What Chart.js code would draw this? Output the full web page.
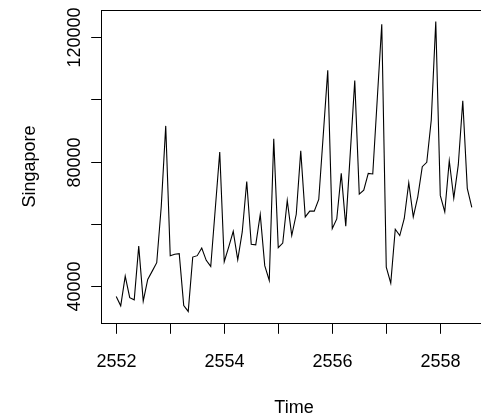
<!DOCTYPE html>
<html>
<head>
<meta charset="utf-8">
<script src="https://cdn.jsdelivr.net/npm/chart.js@4.4.1/dist/chart.umd.min.js"></script>
<style>
  html, body { margin: 0; padding: 0; overflow: hidden; background: #fff; }
  #wrap { width: 481px; height: 417px; overflow: hidden; }
</style>
</head>
<body>
<div id="wrap"><canvas id="myChart" width="490" height="417"></canvas></div>
<script>
// monthly series, starting Jan 2552 (Thai year), frequency 12
const startYear = 2552;
const freq = 12;
const singapore = [
  36800, 33800, 43300, 36400, 35700, 52900, 35300, 42250, 44900, 47600, 65500, 91400,
  49850, 50300, 50500, 33900, 32000, 49400, 49850, 52300, 48350, 46400, 64700, 83050,
  47900, 52650, 57650, 48550, 57450, 73600, 53500, 53300, 63050, 46650, 41900, 87250,
  52400, 53900, 67500, 56300, 63100, 83400, 62250, 64100, 64100, 67850, 88500, 109200,
  58500, 61600, 76200, 59300, 82600, 105900, 69550, 70850, 76200, 76000, 100000, 123950,
  46200, 41050, 58300, 56300, 61750, 73200, 62250, 68700, 78350, 79750, 93300, 124800,
  69150, 63900, 80250, 68250, 78900, 99450, 71400, 65300
];

const xTicks = [2552, 2553, 2554, 2555, 2556, 2557, 2558];
const xTickLabels = ['2552', '', '2554', '', '2556', '', '2558'];
const yTicks = [40000, 60000, 80000, 100000, 120000];
const yTickLabels = ['40000', '', '80000', '', '120000'];
const xTitle = 'Time';
const yTitle = 'Singapore';

const points = singapore.map((v, i) => ({ x: startYear + i / freq, y: v }));

// R style axis ranges: data range plus 4%
const tEnd = startYear + (singapore.length - 1) / freq;
const xPad = (tEnd - startYear) * 0.04;
const yLo = Math.min(...singapore), yHi = Math.max(...singapore);
const yPad = (yHi - yLo) * 0.04;

const FONT = '18px "Liberation Sans", Arial, sans-serif';
const TCK = 10.8;

const baseAxes = {
  id: 'baseAxes',
  afterDraw(chart) {
    const ctx = chart.ctx;
    const a = chart.chartArea;
    const xs = chart.scales.x, ys = chart.scales.y;
    ctx.save();
    ctx.strokeStyle = '#000';
    ctx.fillStyle = '#000';
    ctx.lineWidth = 1;
    // box
    ctx.strokeRect(a.left - 0.5, a.top + 0.5, a.right - a.left, a.bottom - a.top);
    ctx.font = FONT;
    ctx.textAlign = 'center';
    ctx.textBaseline = 'alphabetic';
    // x axis
    xTicks.forEach((t, i) => {
      const px = Math.round(xs.getPixelForValue(t)) + 0.5;
      ctx.beginPath();
      ctx.moveTo(px, a.bottom);
      ctx.lineTo(px, a.bottom + TCK);
      ctx.stroke();
      if (xTickLabels[i]) ctx.fillText(xTickLabels[i], px, a.bottom + 44);
    });
    ctx.fillText(xTitle, (a.left + 486) / 2, 413);
    // y axis
    yTicks.forEach((t, i) => {
      const py = Math.round(ys.getPixelForValue(t)) + 0.5;
      ctx.beginPath();
      ctx.moveTo(a.left, py);
      ctx.lineTo(a.left - TCK, py);
      ctx.stroke();
      if (yTickLabels[i]) {
        ctx.save();
        ctx.translate(a.left - 22, py);
        ctx.rotate(-Math.PI / 2);
        ctx.fillText(yTickLabels[i], 0, 0);
        ctx.restore();
      }
    });
    ctx.save();
    ctx.translate(35, (a.top + a.bottom) / 2);
    ctx.rotate(-Math.PI / 2);
    ctx.fillText(yTitle, 0, 0);
    ctx.restore();
    ctx.restore();
  }
};

new Chart(document.querySelector('#myChart'), {
  type: 'line',
  data: {
    datasets: [{
      data: points,
      borderColor: '#000',
      borderWidth: 1.1,
      pointRadius: 0,
      tension: 0,
      fill: false
    }]
  },
  options: {
    responsive: false,
    animation: false,
    layout: { padding: { left: 102, top: 10, right: 4, bottom: 94 } },
    plugins: { legend: { display: false }, tooltip: { enabled: false } },
    scales: {
      x: { type: 'linear', display: false, min: startYear - xPad, max: tEnd + xPad },
      y: { type: 'linear', display: false, min: yLo - yPad, max: yHi + yPad }
    }
  },
  plugins: [baseAxes]
});
</script>
</body>
</html>
